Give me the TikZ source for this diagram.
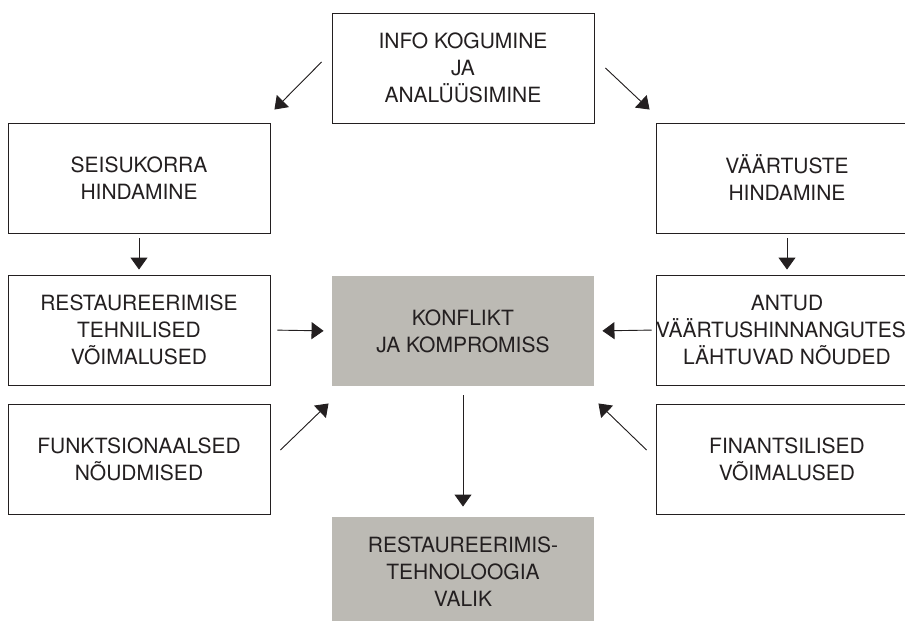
\documentclass[tikz,border=0pt]{standalone}
\usepackage{fontspec}
\setmainfont{TeX Gyre Heros}
\usepackage{xcolor}
\usepackage{tikz}
\usetikzlibrary{arrows.meta,positioning}
\definecolor{ink}{HTML}{231F20}
\definecolor{stone}{HTML}{BCBAB4}

\begin{document}
\begin{tikzpicture}[x=1pt,y=-1pt,>={Triangle[width=17pt,length=12pt]}]
  \tikzstyle{block}=[draw=ink,line width=0.9pt,align=center,inner sep=0pt,minimum width=262pt,minimum height=110pt,text=ink,font=\fontsize{21}{27}\selectfont]
  \tikzstyle{core}=[block,draw=none,fill=stone]
  \tikzstyle{link}=[->,draw=ink,fill=ink,line width=0.9pt]
  \clip (0,0) rectangle (905,621);
  \node[block] (info) at (463,68) {INFO KOGUMINE\\JA\\ANALÜÜSIMINE};
  \node[block] (seis) at (139,178) {SEISUKORRA\\HINDAMINE};
  \node[block] (vaart) at (787,178) {VÄÄRTUSTE\\HINDAMINE};
  \node[block] (tehn) at (139,330) {RESTAUREERIMISE\\TEHNILISED\\VÕIMALUSED};
  \node[core] (konf) at (463,331) {KONFLIKT\\JA KOMPROMISS};
  \node[block] (antud) at (787,330) {ANTUD\\VÄÄRTUSHINNANGUTEST\\LÄHTUVAD NÕUDED};
  \node[block] (funk) at (139,459) {FUNKTSIONAALSED\\NÕUDMISED};
  \node[block] (fin) at (787,459) {FINANTSILISED\\VÕIMALUSED};
  \node[core] (valik) at (463,572) {RESTAUREERIMIS-\\TEHNOLOOGIA\\VALIK};
  \draw[link] ([xshift=-10pt,yshift=6pt]info.west) -- ([xshift=4pt,yshift=13pt]seis.north east);
  \draw[link] ([xshift=11pt]info.east) -- ([xshift=-6pt,yshift=13pt]vaart.north west);
  \draw[link,shorten <=5pt,shorten >=5pt] (seis) -- (tehn);
  \draw[link,shorten <=5pt,shorten >=5pt] (vaart) -- (antud);
  \draw[link,shorten <=7pt,shorten >=8pt] (tehn.east) -- (konf.west);
  \draw[link,shorten <=4pt,shorten >=8pt] (antud.west) -- (konf.east);
  \draw[link] ([xshift=10pt,yshift=9pt]funk.east) -- ([xshift=-3pt,yshift=-17pt]konf.south west);
  \draw[link] ([xshift=-9pt,yshift=9pt]fin.west) -- ([xshift=4pt,yshift=-17pt]konf.south east);
  \draw[link,shorten <=9pt,shorten >=10pt] (konf) -- (valik);
\end{tikzpicture}
\end{document}
